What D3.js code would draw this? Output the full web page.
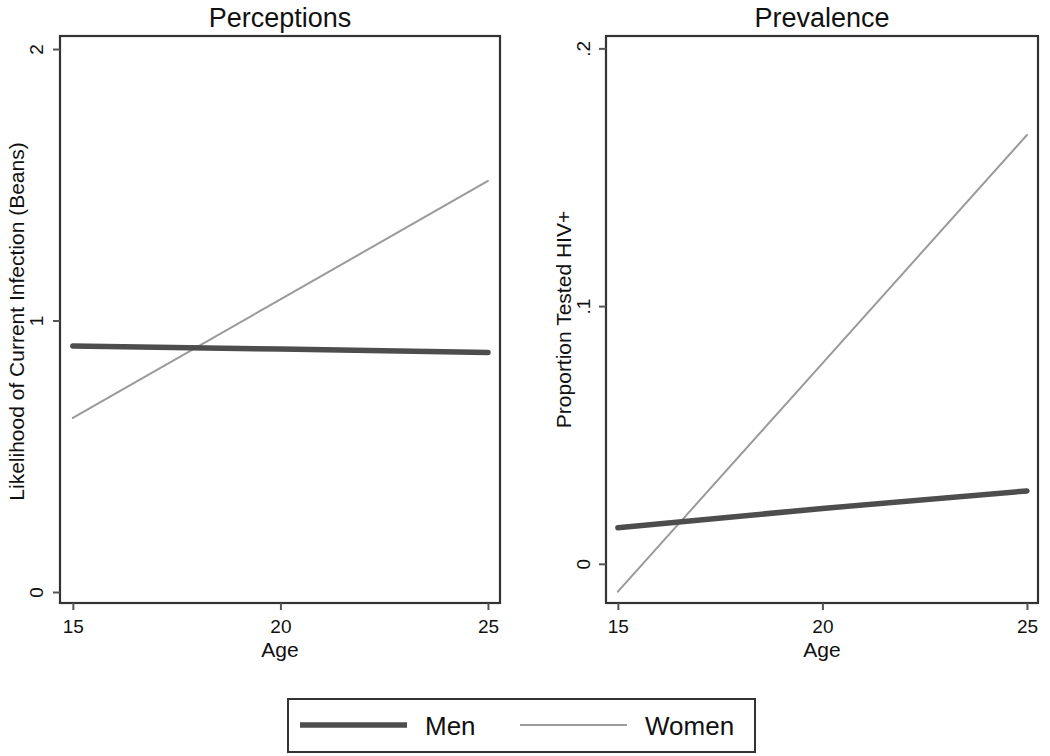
<!DOCTYPE html>
<html>
<head>
<meta charset="utf-8">
<script src="https://cdn.jsdelivr.net/npm/d3@7"></script>
<style>
  html, body { margin: 0; padding: 0; background: #fff; }
  svg { display: block; font-family: "Liberation Sans", Arial, Helvetica, sans-serif; }
</style>
</head>
<body>
<svg id="chart" width="1050" height="756"></svg>
<script>
// ---- data ----
const ages = [15, 20, 25];
const xTicks = [15, 20, 25];
const seriesNames = ["Men", "Women"];

const perceptionsMen   = [0.906, 0.895, 0.882];
const perceptionsWomen = [0.641, 1.078, 1.514];
const perceptionsTicks = [0, 1, 2];

const prevalenceMen   = [0.014, 0.0215, 0.0283];
const prevalenceWomen = [-0.0108, 0.0778, 0.1664];
const prevalenceTicks = [0, 0.1, 0.2];

const panelTitles = ["Perceptions", "Prevalence"];
const yTitles = ["Likelihood of Current Infection (Beans)", "Proportion Tested HIV+"];
const xTitle = "Age";

// ---- styles ----
const seriesStyle = {
  Men:   { color: "#4d4d4d", width: 5.5 },
  Women: { color: "#9a9a9a", width: 2 }
};
const frameColor = "#333";

const svg = d3.select("#chart");

const panels = [
  { title: panelTitles[0], yTitle: yTitles[0], men: perceptionsMen, women: perceptionsWomen,
    yDomain: [-0.0405, 2.048], yTicks: perceptionsTicks,
    box: { x0: 60, x1: 500, y0: 36, y1: 603 }, xDomain: [14.69, 25.29],
    yTitleX: 17, labelOffset: 17 },
  { title: panelTitles[1], yTitle: yTitles[1], men: prevalenceMen, women: prevalenceWomen,
    yDomain: [-0.0152, 0.2048], yTicks: prevalenceTicks,
    box: { x0: 606, x1: 1038, y0: 36, y1: 603 }, xDomain: [14.71, 25.27],
    yTitleX: 564, labelOffset: 16 }
];

const fmt = d => d === 0 ? "0" : String(+d.toFixed(3)).replace(/^0\./, ".");

panels.forEach(p => {
  const b = p.box;
  const x = d3.scaleLinear().domain(p.xDomain).range([b.x0, b.x1]);
  const y = d3.scaleLinear().domain(p.yDomain).range([b.y1, b.y0]);

  const g = svg.append("g");

  // frame
  g.append("rect")
    .attr("x", b.x0).attr("y", b.y0)
    .attr("width", b.x1 - b.x0).attr("height", b.y1 - b.y0)
    .attr("fill", "#fff").attr("stroke", frameColor).attr("stroke-width", 2.2);

  // y axis
  const ya = g.append("g").attr("transform", `translate(${b.x0},0)`)
    .call(d3.axisLeft(y).tickValues(p.yTicks).tickFormat(fmt).tickSize(7).tickPadding(0));
  ya.select(".domain").remove();
  ya.selectAll(".tick line").attr("stroke", "#555").attr("stroke-width", 2);
  ya.selectAll(".tick text")
    .attr("x", null).attr("dy", null)
    .attr("transform", "rotate(-90)")
    .attr("x", 0).attr("y", -p.labelOffset)
    .attr("text-anchor", "middle")
    .attr("font-size", 19).attr("fill", "#111")
    .attr("font-family", "'Liberation Sans', Arial, sans-serif");

  // x axis
  const xa = g.append("g").attr("transform", `translate(0,${b.y1})`)
    .call(d3.axisBottom(x).tickValues(xTicks).tickFormat(d3.format("d")).tickSize(7).tickPadding(0));
  xa.select(".domain").remove();
  xa.selectAll(".tick line").attr("stroke", "#555").attr("stroke-width", 2);
  xa.selectAll(".tick text")
    .attr("dy", null).attr("y", 30)
    .attr("font-size", 19).attr("fill", "#111")
    .attr("font-family", "'Liberation Sans', Arial, sans-serif");

  // lines
  const line = d3.line().x((d, i) => x(ages[i])).y(d => y(d));
  [["Women", p.women], ["Men", p.men]].forEach(([name, vals]) => {
    g.append("path").datum(vals)
      .attr("d", line)
      .attr("fill", "none")
      .attr("stroke", seriesStyle[name].color)
      .attr("stroke-width", seriesStyle[name].width)
      .attr("stroke-linecap", "round");
  });

  // titles
  g.append("text")
    .attr("x", (b.x0 + b.x1) / 2).attr("y", 27)
    .attr("text-anchor", "middle").attr("font-size", 27).attr("fill", "#111")
    .text(p.title);
  g.append("text")
    .attr("x", (b.x0 + b.x1) / 2).attr("y", 657)
    .attr("text-anchor", "middle").attr("font-size", 21).attr("fill", "#111")
    .text(xTitle);
  g.append("text")
    .attr("transform", `translate(${p.yTitleX},${(b.y0 + b.y1) / 2 + (p === panels[0] ? 2 : 0)}) rotate(-90)`)
    .attr("text-anchor", "middle").attr("font-size", 21).attr("fill", "#111")
    .attr("dy", "0.35em")
    .text(p.yTitle);
});

// legend
const lg = svg.append("g");
lg.append("rect")
  .attr("x", 288).attr("y", 699).attr("width", 467).attr("height", 53)
  .attr("fill", "#fff").attr("stroke", frameColor).attr("stroke-width", 2);
const legendItems = [
  { name: seriesNames[0], lx0: 300, lx1: 407, tx: 425 },
  { name: seriesNames[1], lx0: 520, lx1: 627, tx: 645 }
];
legendItems.forEach(it => {
  lg.append("line")
    .attr("x1", it.lx0).attr("x2", it.lx1).attr("y1", 725).attr("y2", 725)
    .attr("stroke", seriesStyle[it.name].color)
    .attr("stroke-width", seriesStyle[it.name].width);
  lg.append("text")
    .attr("x", it.tx).attr("y", 735)
    .attr("font-size", 26).attr("fill", "#111")
    .text(it.name);
});
</script>
</body>
</html>
